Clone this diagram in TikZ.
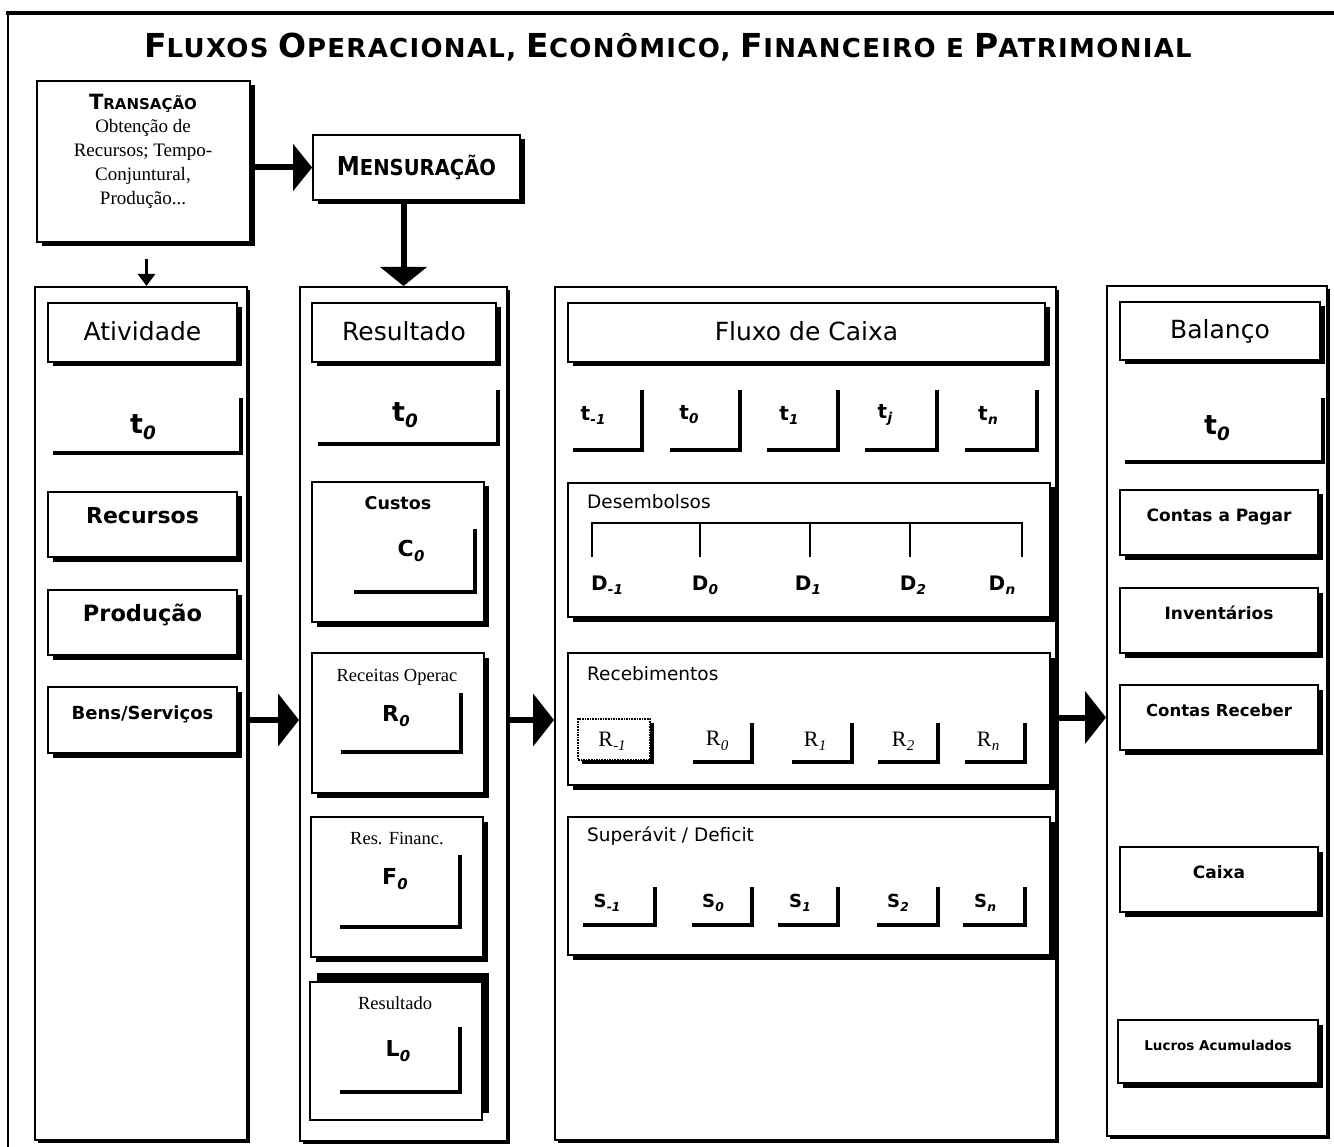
\documentclass[tikz,border=0pt]{standalone}
\usepackage{fontspec}
\usepackage{graphicx}
\setmainfont{Liberation Serif}
\newfontfamily\vsans{DejaVu Sans}
\newfontfamily\titlefont{DejaVu Sans}[LetterSpace=5]
\usetikzlibrary{shadows,arrows.meta}

\newcommand\fs[1]{\fontsize{#1}{#1}\selectfont}
% letter with a lowered italic index
\newcommand\sublab[2]{#1\kern0.3pt\raisebox{-0.2em}{\scalebox{0.68}{\itshape #2}}}
% small-caps word: large initial, smaller rest
\newcommand\TC[2]{{\fs{33}#1}{\fs{26}#2}}
% rectangle node given by its corners: [style]{name}{x1}{y1}{x2}{y2}{text}
\newcommand\bx[7][]{%
  \pgfmathsetmacro\bxcx{(#3+#5)/2}\pgfmathsetmacro\bxcy{(#4+#6)/2}%
  \pgfmathsetmacro\bxw{#5-#3}\pgfmathsetmacro\bxh{#6-#4}%
  \node[#1,minimum width=\bxw pt,minimum height=\bxh pt] (#2) at (\bxcx,\bxcy) {#7};}
% open frame: right and bottom edges only
\newcommand\cnr[5]{%
  \bx[cornerarea]{#1}{#2}{#3}{#4}{#5}{}%
  \draw[cline] (#1.north east) -- (#1.south east) -- (#1.south west);}

\tikzset{
  colbox/.style={draw,line width=2pt,fill=white,inner sep=0pt,
    drop shadow={shadow xshift=3pt,shadow yshift=-3pt,fill=black,opacity=1}},
  inbox/.style={draw,line width=1.7pt,fill=white,inner sep=0pt,align=center,
    drop shadow={shadow xshift=4.5pt,shadow yshift=-4.5pt,fill=black,opacity=1}},
  dotbox/.style={draw,densely dotted,line width=1.6pt,fill=white,inner sep=0pt,
    drop shadow={shadow xshift=4pt,shadow yshift=-4pt,fill=black,opacity=1}},
  plainbox/.style={draw,line width=1.7pt,fill=white,inner sep=0pt},
  hdr/.style={font=\vsans\fs{25},text height=18pt,text depth=2pt},
  mid/.style={text height=8pt,text depth=10pt},
  fb/.style={font=\vsans\bfseries},
  cornerarea/.style={inner sep=0pt,draw=none},
  cline/.style={line width=4pt},
  tl/.style={font=\vsans\bfseries\fs{27},inner sep=0pt},
  imp/.style={font=\vsans\bfseries\fs{22},inner sep=0pt},
  serl/.style={font=\fs{18.5},inner sep=0pt},
  secl/.style={font=\vsans\fs{18.5},anchor=west,inner sep=0pt},
  tfl/.style={font=\vsans\bfseries\fs{20},inner sep=0pt},
  dl/.style={font=\vsans\bfseries\fs{20},inner sep=0pt},
  rl/.style={font=\fs{22},inner sep=0pt},
  sl/.style={font=\vsans\bfseries\fs{18},inner sep=0pt},
  bigarrow/.style={line width=6pt,-{Triangle[length=21pt,width=52pt]}},
  midarrow/.style={line width=6pt,-{Triangle[length=19pt,width=46pt]}},
  smallarrow/.style={line width=3pt,-{Triangle[length=12pt,width=17pt]}},
}

\begin{document}
\begin{tikzpicture}[x=1pt,y=-1pt]
\useasboundingbox (0,0) rectangle (1334,1147);
\fill[white] (0,0) rectangle (1334,1147);

% outer frame
\draw[line width=2pt] (8,1147) -- (8,13);
\draw[line width=4.5pt] (6,13) -- (1334,13);

% title
\node[anchor=base,font=\titlefont\bfseries\fs{26},inner sep=0pt] (title) at (668,58)
  {\TC{F}{LUXOS} \TC{O}{PERACIONAL,} \TC{E}{CONÔMICO,} \TC{F}{INANCEIRO} E \TC{P}{ATRIMONIAL}};

% transaction and measurement
\bx[inbox]{trans}{37}{81}{250}{242}{}
\node[align=center,font=\fontsize{19}{23.8}\selectfont,inner sep=0pt] (transT) at (143,151)
  {{\vsans\bfseries\fs{21}T\fs{15}RANSAÇÃO}\\Obtenção de\\Recursos; Tempo-\\Conjuntural,\\Produção...};
\bx[inbox]{mens}{313}{135}{520}{200}{\vsans\bfseries\scalebox{0.89}[1]{\fs{26}M\fs{22}ENSURAÇÃO}}

% the four columns
\bx[colbox]{colA}{35}{287}{247}{1140}{}
\bx[colbox]{colR}{300}{287}{507}{1141}{}
\bx[colbox]{colF}{555}{287}{1056}{1140}{}
\bx[colbox]{colB}{1107}{286}{1327}{1136}{}

% activity column
\bx[inbox,hdr]{hA}{48}{303}{237}{362}{Atividade}
\cnr{cA}{53}{398}{241}{453}
\node[tl] (tA) at (143,427) {\sublab{t}{0}};
\bx[inbox,mid,fb]{recA}{48}{492}{237}{557}{\fs{22}Recursos}
\bx[inbox,mid,fb]{prodA}{48}{590}{237}{655}{\fs{22.5}Produção}
\bx[inbox,mid,fb]{bensA}{48}{687}{237}{753}{\fs{18}Bens/Serviços}

% result column
\bx[inbox,hdr]{hR}{312}{303}{496}{362}{Resultado}
\cnr{cR}{318}{390}{498}{444}
\node[tl] (tR) at (405,415) {\sublab{t}{0}};
\bx[inbox]{cuB}{312}{482}{484}{622}{}
\node[font=\vsans\bfseries\fs{17.5},inner sep=0pt] (cuT) at (398,503) {Custos};
\cnr{cC}{354}{529}{475}{592}
\node[imp] (c0) at (411,551) {\sublab{C}{0}};
\bx[inbox]{roB}{312}{653}{484}{793}{}
\node[serl] (roT) at (397,677) {Receitas Operac};
\cnr{cRo}{341}{693}{461}{752}
\node[imp] (r0) at (396,716) {\sublab{R}{0}};
\bx[inbox]{rfB}{311}{817}{483}{957}{}
\node[serl] (rfT) at (397,839) {Res. Financ.};
\cnr{cF}{340}{855}{460}{927}
\node[imp] (f0) at (395,879) {\sublab{F}{0}};
\fill (317,973) rectangle (489,1113);
\bx[plainbox]{reB}{310}{982}{482}{1120}{}
\node[serl] (reT) at (395,1003) {Resultado};
\cnr{cL}{340}{1027}{460}{1092}
\node[imp] (l0) at (398,1051) {\sublab{L}{0}};

% cash flow column
\bx[inbox,hdr]{hF}{568}{303}{1045}{362}{Fluxo de Caixa}
\cnr{ct1}{573}{390}{642}{450}
\cnr{ct2}{670}{390}{740}{450}
\cnr{ct3}{767}{390}{838}{450}
\cnr{ct4}{865}{390}{937}{450}
\cnr{ct5}{965}{390}{1037}{450}
\node[tfl] (tf1) at (593,415) {\sublab{t}{-1}};
\node[tfl] (tf2) at (689,415) {\sublab{t}{0}};
\node[tfl] (tf3) at (789,415) {\sublab{t}{1}};
\node[tfl] (tf4) at (885,415) {\sublab{t}{j}};
\node[tfl] (tf5) at (988,415) {\sublab{t}{n}};

\bx[inbox]{desB}{568}{483}{1050}{617}{}
\node[secl] (desT) at (587,502) {Desembolsos};
\draw[line width=2pt] (592,557) -- (592,523) -- (1022,523) -- (1022,557);
\foreach \x in {700,810,910} \draw[line width=2pt] (\x,523) -- (\x,557);
\node[dl] (d1) at (607,585) {\sublab{D}{-1}};
\node[dl] (d2) at (705,585) {\sublab{D}{0}};
\node[dl] (d3) at (808,585) {\sublab{D}{1}};
\node[dl] (d4) at (913,585) {\sublab{D}{2}};
\node[dl] (d5) at (1002,585) {\sublab{D}{n}};

\bx[inbox]{recB}{568}{653}{1050}{785}{}
\node[secl] (recT) at (587,674) {Recebimentos};
\bx[dotbox]{rm1}{578}{719}{650}{760}{}
\cnr{cr2}{693}{723}{752}{762}
\cnr{cr3}{792}{723}{852}{762}
\cnr{cr4}{878}{723}{938}{762}
\cnr{cr5}{965}{723}{1025}{762}
\node[rl] (rr1) at (612,741) {\sublab{R}{-1}};
\node[rl] (rr2) at (717,741) {\sublab{R}{0}};
\node[rl] (rr3) at (815,741) {\sublab{R}{1}};
\node[rl] (rr4) at (903,741) {\sublab{R}{2}};
\node[rl] (rr5) at (988,741) {\sublab{R}{n}};

\bx[inbox]{supB}{568}{817}{1050}{955}{}
\node[secl] (supT) at (587,836) {Superávit / Deficit};
\cnr{cs1}{583}{887}{655}{925}
\cnr{cs2}{692}{887}{752}{925}
\cnr{cs3}{778}{887}{838}{925}
\cnr{cs4}{877}{887}{938}{925}
\cnr{cs5}{963}{887}{1025}{925}
\node[sl] (ss1) at (607,903) {\sublab{S}{-1}};
\node[sl] (ss2) at (713,903) {\sublab{S}{0}};
\node[sl] (ss3) at (800,903) {\sublab{S}{1}};
\node[sl] (ss4) at (898,903) {\sublab{S}{2}};
\node[sl] (ss5) at (985,903) {\sublab{S}{n}};

% balance sheet column
\bx[inbox,hdr]{hB}{1120}{302}{1320}{360}{Balanço}
\cnr{cB}{1125}{398}{1323}{462}
\node[tl] (tB) at (1217,428) {\sublab{t}{0}};
\bx[inbox,mid,fb]{cpB}{1120}{490}{1318}{555}{\fs{17}Contas a Pagar}
\bx[inbox,mid,fb]{invB}{1120}{588}{1318}{653}{\fs{17}Inventários}
\bx[inbox,mid,fb]{crB}{1120}{685}{1318}{750}{\fs{16.5}Contas Receber}
\bx[inbox,mid,fb]{cxB}{1120}{847}{1318}{912}{\fs{17}Caixa}
\bx[inbox,mid,fb]{laB}{1118}{1020}{1318}{1083}{\fs{13.5}Lucros Acumulados}

% connectors
\draw[midarrow] (trans.east |- mens.west) -- (mens.west);
\draw[midarrow] (mens.south -| colR.north) -- (colR.north);
\draw[smallarrow,shorten <=16pt] ([xshift=3pt]trans.south) -- ([xshift=3pt]trans.south |- colA.north);
\draw[bigarrow] (colA.east |- bensA.center) -- (colR.west |- bensA.center);
\draw[bigarrow] (colR.east |- bensA.center) -- (colF.west |- bensA.center);
\draw[bigarrow] (colF.east |- crB.center) -- (colB.west |- crB.center);
\end{tikzpicture}
\end{document}
